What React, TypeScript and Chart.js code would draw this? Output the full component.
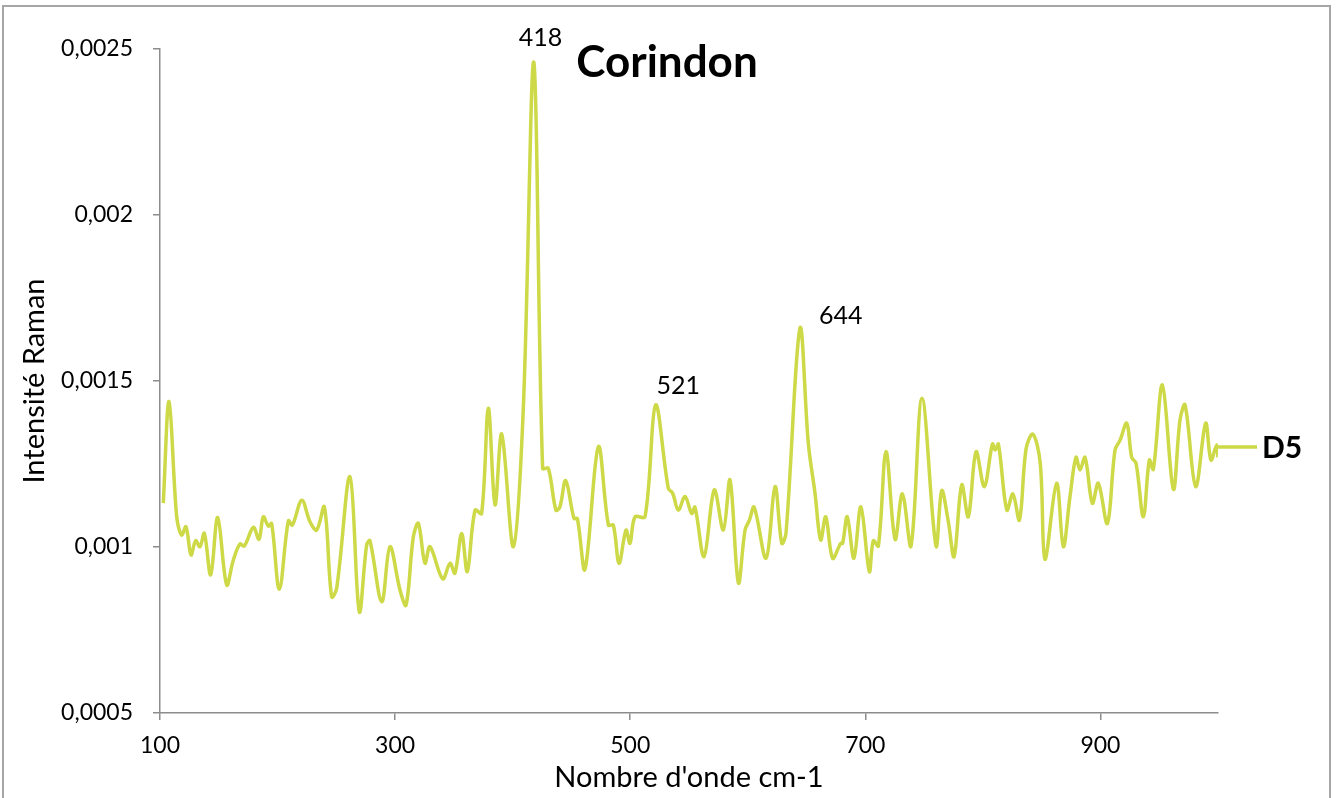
import React, { useEffect, useRef } from 'react';
import { Chart, registerables } from 'chart.js';

Chart.register(...registerables);

const wavenumbers = [
  102.8, 107.7, 114.2, 118.4, 122.1, 126.4, 130.3, 134.0, 137.7, 143.1,
  149.1, 156.7, 162.4, 168.0, 171.7, 179.4, 184.2, 187.9, 192.2, 195.0,
  201.5, 209.2, 212.6, 220.6, 227.6, 233.3, 239.8, 246.0, 250.3, 261.6,
  269.5, 275.8, 278.6, 288.6, 295.6, 304.2, 309.3, 315.5, 319.8, 325.4,
  329.7, 340.5, 346.7, 350.9, 356.6, 361.4, 368.0, 373.6, 379.3, 385.0,
  390.7, 400.6, 409.0, 418.0, 425.5, 430.3, 436.8, 440.2, 445.1, 452.2,
  455.0, 461.5, 472.9, 481.4, 485.6, 490.5, 496.4, 499.8, 504.1, 512.6,
  521.6, 532.4, 536.1, 540.9, 546.6, 552.3, 555.1, 562.8, 571.5, 579.2,
  584.9, 592.0, 597.7, 601.4, 605.4, 615.6, 623.2, 628.9, 632.5, 644.4,
  651.5, 657.2, 662.0, 666.3, 672.2, 679.0, 680.7, 684.6, 690.3, 696.2,
  703.4, 706.8, 711.1, 717.6, 725.3, 731.5, 738.9, 748.2, 760.1, 765.0,
  770.6, 775.5, 782.0, 787.6, 794.2, 801.2, 808.1, 810.4, 813.2, 820.4,
  825.5, 831.1, 836.8, 842.6, 848.8, 852.8, 862.7, 868.4, 874.1, 879.2,
  882.6, 886.9, 893.1, 898.2, 905.9, 912.4, 916.7, 922.4, 926.6, 930.3,
  936.5, 941.6, 945.0, 952.7, 962.0, 967.7, 972.0, 981.0, 989.5, 994.0,
  998.9, 1000.0,
];

const intensities = [
  0.001132, 0.001438, 0.001091, 0.001036, 0.001061, 0.000976, 0.001019, 0.001001, 0.001041, 0.000916,
  0.001089, 0.000886, 0.000961, 0.001009, 0.001003, 0.001059, 0.001023, 0.001091, 0.001063, 0.001071,
  0.000873, 0.001079, 0.001066, 0.001141, 0.001076, 0.001051, 0.001121, 0.00085, 0.000876, 0.001212,
  0.000805, 0.001006, 0.001019, 0.000835, 0.001001, 0.00087, 0.000825, 0.001031, 0.001071, 0.000951,
  0.001001, 0.000904, 0.000951, 0.000921, 0.001041, 0.000926, 0.001111, 0.001101, 0.001418, 0.001127,
  0.00134, 0.001001, 0.001413, 0.00246, 0.001237, 0.001237, 0.001111, 0.001121, 0.0012, 0.001086,
  0.001086, 0.000933, 0.001302, 0.001066, 0.001066, 0.000951, 0.001051, 0.001011, 0.001091, 0.001091,
  0.001428, 0.001177, 0.001162, 0.001111, 0.001152, 0.001101, 0.00112, 0.000971, 0.001172, 0.001051,
  0.001202, 0.000892, 0.001051, 0.001081, 0.00112, 0.000966, 0.001182, 0.001011, 0.001041, 0.001659,
  0.001312, 0.001162, 0.001021, 0.001091, 0.000966, 0.001011, 0.001011, 0.001091, 0.000966, 0.001121,
  0.000926, 0.001019, 0.001003, 0.001287, 0.001023, 0.00116, 0.001003, 0.001448, 0.001003, 0.00117,
  0.001076, 0.000971, 0.001187, 0.001091, 0.001287, 0.001182, 0.00131, 0.001292, 0.00131, 0.001111,
  0.00116, 0.001081, 0.001297, 0.00134, 0.001252, 0.000963, 0.001192, 0.001001, 0.001152, 0.00127,
  0.001232, 0.00127, 0.001132, 0.001192, 0.001071, 0.001292, 0.001322, 0.001373, 0.00127, 0.001252,
  0.001091, 0.001262, 0.001234, 0.001488, 0.001174, 0.001383, 0.001428, 0.001182, 0.001373, 0.001262,
  0.001307, 0.00127,
];

const xTickValues = [100, 300, 500, 700, 900];
const yTickValues = [0.0005, 0.001, 0.0015, 0.002, 0.0025];
const peakPositions = [418.0, 521.6, 644.4];
const peakLabels = ['418', '521', '644'];
const seriesName = 'D5';
const chartTitle = 'Corindon';
const xAxisTitle = "Nombre d'onde cm-1";
const yAxisTitle = 'Intensité Raman';

const LINE_COLOR = '#cdd946';
const AXIS_COLOR = '#8c8c8c';
const FONT = 'Lato';

const decorPlugin = {
  id: 'decor',
  beforeDraw(chart: any) {
    const ctx = chart.ctx;
    ctx.save();
    ctx.fillStyle = '#ffffff';
    ctx.fillRect(0, 0, chart.width, chart.height);
    ctx.strokeStyle = '#a6a6a6';
    ctx.lineWidth = 2;
    ctx.beginPath();
    ctx.moveTo(3, chart.height + 2);
    ctx.lineTo(3, 6);
    ctx.lineTo(1330, 6);
    ctx.lineTo(1330, chart.height + 2);
    ctx.stroke();
    ctx.restore();
  },
  afterDraw(chart: any) {
    const ctx = chart.ctx;
    const xs = chart.scales.x;
    const ys = chart.scales.y;
    ctx.save();
    // title
    ctx.fillStyle = '#000';
    ctx.font = `bold 44px ${FONT}`;
    ctx.textAlign = 'center';
    ctx.textBaseline = 'middle';
    ctx.fillText(chartTitle, 667, 63);
    // peak labels
    const offsets = [[-15, -24], [1, -19], [19, -12]];
    ctx.font = `25px ${FONT}`;
    ctx.textAlign = 'left';
    peakPositions.forEach((p, i) => {
      let best = 0;
      wavenumbers.forEach((w, j) => {
        if (Math.abs(w - p) < Math.abs(wavenumbers[best] - p)) best = j;
      });
      const px = xs.getPixelForValue(wavenumbers[best]);
      const py = ys.getPixelForValue(intensities[best]);
      ctx.fillText(peakLabels[i], px + offsets[i][0], py + offsets[i][1]);
    });
    // legend
    const ly = 447;
    ctx.strokeStyle = LINE_COLOR;
    ctx.lineWidth = 3.5;
    ctx.beginPath();
    ctx.moveTo(chart.chartArea.right - 3, ly);
    ctx.lineTo(chart.chartArea.right + 39, ly);
    ctx.stroke();
    ctx.font = `bold 30px ${FONT}`;
    ctx.fillStyle = '#000';
    ctx.fillText(seriesName, chart.chartArea.right + 44, ly + 1);
    ctx.restore();
  },
};

export default function App() {
  const canvasRef = useRef<HTMLCanvasElement | null>(null);

  useEffect(() => {
    if (!canvasRef.current) return;
    const points = wavenumbers.map((w, i) => ({ x: w, y: intensities[i] }));
    const chart = new Chart(canvasRef.current, {
      type: 'line',
      data: {
        datasets: [
          {
            label: seriesName,
            data: points,
            borderColor: LINE_COLOR,
            backgroundColor: LINE_COLOR,
            borderWidth: 3.5,
            pointRadius: 0,
            tension: 0.35,
            fill: false,
          },
        ],
      },
      options: {
        animation: false,
        responsive: false,
        maintainAspectRatio: false,
        layout: { padding: { top: 49, right: 120, left: 0, bottom: 0 } },
        plugins: {
          legend: { display: false },
          tooltip: { enabled: false },
          title: { display: false },
        },
        scales: {
          x: {
            type: 'linear',
            min: 100,
            max: 1000,
            afterBuildTicks: (s: any) => {
              s.ticks = xTickValues.map((v) => ({ value: v }));
            },
            afterFit: (s: any) => {
              s.height = 85;
            },
            grid: {
              drawOnChartArea: false,
              drawTicks: true,
              tickLength: 7,
              color: AXIS_COLOR,
              lineWidth: 1.5,
            },
            border: { display: true, color: AXIS_COLOR, width: 1.5 },
            ticks: {
              color: '#000',
              font: { family: FONT, size: 23 },
              padding: 12,
              maxRotation: 0,
              autoSkip: false,
              callback: (v: any) => String(v),
            },
            title: {
              display: true,
              text: xAxisTitle,
              color: '#000',
              font: { family: FONT, size: 29 },
              padding: { top: 0, bottom: 3 },
            },
          },
          y: {
            type: 'linear',
            min: 0.0005,
            max: 0.0025,
            afterBuildTicks: (s: any) => {
              s.ticks = yTickValues.map((v) => ({ value: v }));
            },
            afterFit: (s: any) => {
              s.width = 160;
            },
            grid: {
              drawOnChartArea: false,
              drawTicks: true,
              tickLength: 7,
              color: AXIS_COLOR,
              lineWidth: 1.5,
            },
            border: { display: true, color: AXIS_COLOR, width: 1.5 },
            ticks: {
              color: '#000',
              font: { family: FONT, size: 23 },
              padding: 20,
              callback: (v: any) => String(v).replace('.', ','),
            },
            title: {
              display: true,
              text: yAxisTitle,
              color: '#000',
              font: { family: FONT, size: 29 },
              padding: { top: 17, bottom: 0 },
            },
          },
        },
      },
      plugins: [decorPlugin],
    });
    return () => chart.destroy();
  }, []);

  return (
    <div style={{ position: 'fixed', left: 0, top: 0, width: 1338, height: 798, background: '#fff' }}>
      <canvas ref={canvasRef} width={1338} height={798} style={{ display: 'block', width: 1338, height: 798 }} />
    </div>
  );
}
